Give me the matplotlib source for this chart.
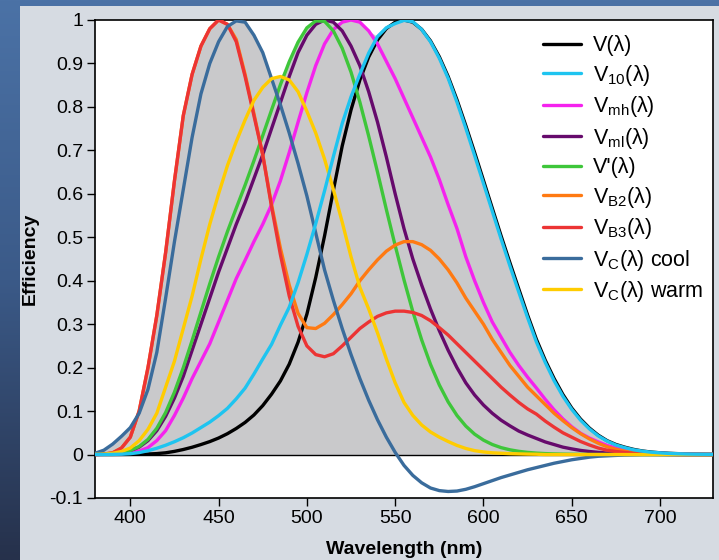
import numpy as np
import matplotlib
matplotlib.use("Agg")
from matplotlib import pyplot as plt
from matplotlib.colors import LinearSegmentedColormap
from matplotlib.patches import Rectangle

plt.rcParams['font.family'] = ['Liberation Sans', 'DejaVu Sans']
plt.rcParams['mathtext.fontset'] = 'custom'
plt.rcParams['mathtext.rm'] = 'Liberation Sans'

# wavelength grid (nm), 5 nm steps
wavelength = np.arange(380, 735, 5)

v_photopic = [0.0000, 0.0001, 0.0001, 0.0002, 0.0004, 0.0006, 0.0012, 0.0022, 0.0040, 0.0073,
              0.0116, 0.0168, 0.0230, 0.0298, 0.0380, 0.0480, 0.0600, 0.0739, 0.0910, 0.1126,
              0.1390, 0.1693, 0.2080, 0.2586, 0.3230, 0.4073, 0.5030, 0.6082, 0.7100, 0.7932,
              0.8620, 0.9149, 0.9540, 0.9803, 0.9950, 1.0000, 0.9950, 0.9786, 0.9520, 0.9154,
              0.8700, 0.8163, 0.7570, 0.6949, 0.6310, 0.5668, 0.5030, 0.4412, 0.3810, 0.3210,
              0.2650, 0.2170, 0.1750, 0.1382, 0.1070, 0.0816, 0.0610, 0.0446, 0.0320, 0.0232,
              0.0170, 0.0119, 0.0082, 0.0057, 0.0041, 0.0029, 0.0021, 0.0015, 0.0010, 0.0007,
              0.0005]

v_10 = [0.0000, 0.0001, 0.0003, 0.0008, 0.0020, 0.0045, 0.0088, 0.0145, 0.0214, 0.0295,
        0.0387, 0.0496, 0.0621, 0.0747, 0.0895, 0.1063, 0.1282, 0.1528, 0.1852, 0.2199,
        0.2536, 0.2977, 0.3391, 0.3954, 0.4608, 0.5314, 0.6067, 0.6857, 0.7618, 0.8233,
        0.8752, 0.9238, 0.9620, 0.9822, 0.9918, 0.9991, 0.9960, 0.9780, 0.9500, 0.9120,
        0.8660, 0.8110, 0.7510, 0.6880, 0.6240, 0.5600, 0.4960, 0.4340, 0.3740, 0.3150,
        0.2590, 0.2120, 0.1700, 0.1340, 0.1040, 0.0790, 0.0590, 0.0430, 0.0310, 0.0220,
        0.0160, 0.0110, 0.0078, 0.0054, 0.0039, 0.0026, 0.0018, 0.0012, 0.0008, 0.0006,
        0.0004]

v_mh = [0.0002, 0.0005, 0.0010, 0.0020, 0.0040, 0.0080, 0.0160, 0.0320, 0.0550, 0.0900,
        0.1300, 0.1750, 0.2150, 0.2550, 0.3050, 0.3550, 0.4050, 0.4470, 0.4900, 0.5300,
        0.5750, 0.6300, 0.6950, 0.7650, 0.8330, 0.8950, 0.9450, 0.9780, 0.9950, 1.0000,
        0.9950, 0.9750, 0.9450, 0.9050, 0.8650, 0.8200, 0.7750, 0.7300, 0.6850, 0.6330,
        0.5750, 0.5200, 0.4550, 0.4000, 0.3500, 0.3050, 0.2700, 0.2350, 0.2050, 0.1780,
        0.1530, 0.1270, 0.1030, 0.0820, 0.0640, 0.0490, 0.0380, 0.0290, 0.0210, 0.0150,
        0.0110, 0.0080, 0.0055, 0.0040, 0.0028, 0.0020, 0.0014, 0.0010, 0.0007, 0.0005,
        0.0003]

v_ml = [0.0005, 0.0010, 0.0020, 0.0045, 0.0090, 0.0170, 0.0320, 0.0550, 0.0880, 0.1300,
        0.1800, 0.2400, 0.3000, 0.3600, 0.4200, 0.4750, 0.5300, 0.5800, 0.6350, 0.6900,
        0.7500, 0.8100, 0.8700, 0.9250, 0.9650, 0.9900, 1.0000, 0.9950, 0.9750, 0.9400,
        0.8950, 0.8350, 0.7650, 0.6850, 0.6000, 0.5200, 0.4500, 0.3900, 0.3350, 0.2850,
        0.2400, 0.2000, 0.1650, 0.1370, 0.1140, 0.0950, 0.0790, 0.0660, 0.0540, 0.0450,
        0.0370, 0.0290, 0.0230, 0.0170, 0.0130, 0.0095, 0.0070, 0.0050, 0.0035, 0.0025,
        0.0017, 0.0012, 0.0008, 0.0005, 0.0003, 0.0000, 0.0000, 0.0000, 0.0000, 0.0000,
        0.0000]

v_scotopic = [0.0006, 0.0011, 0.0022, 0.0045, 0.0093, 0.0185, 0.0348, 0.0604, 0.0966, 0.1436,
              0.1998, 0.2625, 0.3281, 0.3931, 0.4550, 0.5130, 0.5670, 0.6200, 0.6760, 0.7340,
              0.7930, 0.8510, 0.9040, 0.9490, 0.9820, 0.9980, 0.9970, 0.9750, 0.9350, 0.8800,
              0.8110, 0.7330, 0.6500, 0.5640, 0.4810, 0.4020, 0.3288, 0.2639, 0.2076, 0.1602,
              0.1212, 0.0899, 0.0655, 0.0469, 0.0332, 0.0231, 0.0159, 0.0109, 0.0074, 0.0050,
              0.0033, 0.0022, 0.0015, 0.0010, 0.0007, 0.0005, 0.0003, 0.0002, 0.0001, 0.0001,
              0.0001, 0.0000, 0.0000, 0.0000, 0.0000, 0.0000, 0.0000, 0.0000, 0.0000, 0.0000,
              0.0000]

v_b2 = [0.0000, 0.0010, 0.0040, 0.0150, 0.0400, 0.1000, 0.2000, 0.3200, 0.4650, 0.6300,
        0.7800, 0.8750, 0.9400, 0.9800, 1.0000, 0.9900, 0.9550, 0.8750, 0.7850, 0.6900,
        0.5750, 0.4750, 0.3900, 0.3250, 0.2920, 0.2900, 0.3020, 0.3220, 0.3450, 0.3700,
        0.4000, 0.4250, 0.4480, 0.4680, 0.4820, 0.4900, 0.4900, 0.4830, 0.4700, 0.4500,
        0.4250, 0.3950, 0.3600, 0.3300, 0.3000, 0.2650, 0.2350, 0.2050, 0.1800, 0.1550,
        0.1350, 0.1150, 0.0950, 0.0780, 0.0620, 0.0480, 0.0360, 0.0260, 0.0180, 0.0120,
        0.0080, 0.0050, 0.0030, 0.0020, 0.0012, 0.0007, 0.0004, 0.0000, 0.0000, 0.0000,
        0.0000]

v_b3 = [0.0000, 0.0010, 0.0040, 0.0150, 0.0400, 0.1000, 0.2000, 0.3200, 0.4650, 0.6300,
        0.7800, 0.8750, 0.9400, 0.9800, 1.0000, 0.9900, 0.9500, 0.8700, 0.7800, 0.6900,
        0.5700, 0.4600, 0.3650, 0.2950, 0.2500, 0.2300, 0.2250, 0.2320, 0.2500, 0.2700,
        0.2900, 0.3050, 0.3180, 0.3260, 0.3300, 0.3300, 0.3270, 0.3200, 0.3080, 0.2920,
        0.2750, 0.2550, 0.2350, 0.2150, 0.1950, 0.1750, 0.1550, 0.1370, 0.1200, 0.1050,
        0.0930, 0.0770, 0.0630, 0.0500, 0.0400, 0.0300, 0.0220, 0.0150, 0.0100, 0.0070,
        0.0050, 0.0030, 0.0020, 0.0012, 0.0008, 0.0005, 0.0000, 0.0000, 0.0000, 0.0000,
        0.0000]

v_c_cool = [0.0030, 0.0100, 0.0240, 0.0420, 0.0620, 0.0950, 0.1500, 0.2350, 0.3600, 0.4900,
            0.6100, 0.7300, 0.8300, 0.9000, 0.9500, 0.9850, 0.9980, 0.9950, 0.9650, 0.9250,
            0.8650, 0.8050, 0.7400, 0.6700, 0.5950, 0.5100, 0.4250, 0.3550, 0.2900, 0.2300,
            0.1750, 0.1250, 0.0800, 0.0400, 0.0050, -0.0250, -0.0480, -0.0650, -0.0770, -0.0830,
            -0.0850, -0.0840, -0.0800, -0.0740, -0.0670, -0.0600, -0.0530, -0.0470, -0.0410, -0.0350,
            -0.0300, -0.0250, -0.0200, -0.0160, -0.0120, -0.0090, -0.0060, -0.0040, -0.0030, -0.0020,
            -0.0010, -0.0005, 0.0000, 0.0000, 0.0000, 0.0000, 0.0000, 0.0000, 0.0000, 0.0000,
            0.0000]

v_c_warm = [0.0005, 0.0010, 0.0030, 0.0070, 0.0150, 0.0320, 0.0580, 0.0950, 0.1550, 0.2150,
            0.2900, 0.3650, 0.4500, 0.5300, 0.6000, 0.6650, 0.7200, 0.7700, 0.8150, 0.8450,
            0.8650, 0.8700, 0.8620, 0.8350, 0.7900, 0.7400, 0.6800, 0.6100, 0.5350, 0.4550,
            0.3850, 0.3350, 0.2800, 0.2200, 0.1650, 0.1200, 0.0900, 0.0680, 0.0520, 0.0400,
            0.0300, 0.0210, 0.0140, 0.0090, 0.0060, 0.0040, 0.0030, 0.0020, 0.0015, 0.0010,
            0.0007, 0.0000, 0.0000, 0.0000, 0.0000, 0.0000, 0.0000, 0.0000, 0.0000, 0.0000,
            0.0000, 0.0000, 0.0000, 0.0000, 0.0000, 0.0000, 0.0000, 0.0000, 0.0000, 0.0000,
            0.0000]

labels = [r'V(λ)', r'V$_{\mathrm{10}}$(λ)', r'V$_{\mathrm{mh}}$(λ)', r'V$_{\mathrm{ml}}$(λ)',
          r"V'(λ)", r'V$_{\mathrm{B2}}$(λ)', r'V$_{\mathrm{B3}}$(λ)',
          r'V$_{\mathrm{C}}$(λ) cool', r'V$_{\mathrm{C}}$(λ) warm']
series = [v_photopic, v_10, v_mh, v_ml, v_scotopic, v_b2, v_b3, v_c_cool, v_c_warm]
colors = ['#000000', '#1ec4f0', '#f522ee', '#660a6c', '#3ec63a',
          '#ff7a12', '#ec3434', '#3a6c9c', '#ffcc00']
zorders = [3.0, 3.9, 3.2, 3.3, 3.4, 3.5, 3.6, 3.7, 3.8]


def main():
    fig = plt.figure(figsize=(7.19, 5.6), dpi=100)

    # blue gradient backdrop plus light panel
    bg = fig.add_axes([0, 0, 1, 1])
    bg.set_xlim(0, 1)
    bg.set_ylim(0, 1)
    bg.axis('off')
    cmap = LinearSegmentedColormap.from_list('bg', ['#26314b', '#3b5a88', '#4b72a6'])
    grad = np.linspace(0, 1, 256).reshape(-1, 1)
    bg.imshow(grad, cmap=cmap, aspect='auto', extent=[0, 1, 0, 1], origin='lower')
    bg.add_patch(Rectangle((20 / 719, 0), 1, 554 / 560, color='#d6dbe2', lw=0))

    ax = fig.add_axes([95 / 719, 62 / 560, 618 / 719, 478 / 560])
    ax.set_facecolor('white')

    data = np.array(series)
    envelope = np.clip(data.max(axis=0), 0, None)
    ax.fill_between(wavelength, 0, envelope, color='#c9c9cb', lw=0, zorder=1)
    ax.axhline(0, color='black', lw=1.0, zorder=2)

    for vals, lab, col, z in zip(series, labels, colors, zorders):
        ax.plot(wavelength, vals, color=col, lw=2.4, label=lab, zorder=z,
                solid_capstyle='round')

    ax.set_xlim(380, 730)
    ax.set_ylim(-0.1, 1.0)
    ax.set_xticks([400, 450, 500, 550, 600, 650, 700])
    yt = [-0.1, 0, 0.1, 0.2, 0.3, 0.4, 0.5, 0.6, 0.7, 0.8, 0.9, 1]
    ax.set_yticks(yt)
    ax.set_yticklabels(['-0.1', '0', '0.1', '0.2', '0.3', '0.4', '0.5', '0.6',
                        '0.7', '0.8', '0.9', '1'])
    ax.tick_params(direction='out', length=5.5, width=1.0, labelsize=14, pad=3,
                   top=False, right=False)
    for sp in ax.spines.values():
        sp.set_linewidth(1.2)
        sp.set_color('black')

    ax.set_xlabel('Wavelength (nm)', fontsize=14, fontweight='bold', labelpad=10)
    ax.set_ylabel('Efficiency', fontsize=14, fontweight='bold', labelpad=8)

    ax.legend(loc='upper left', bbox_to_anchor=(0.725, 0.968), frameon=False,
              fontsize=15.5, handlelength=1.75, handletextpad=0.55, labelspacing=0.3,
              borderpad=0, borderaxespad=0)

    fig.savefig('out.png', dpi=100, facecolor=fig.get_facecolor())


if __name__ == '__main__':
    main()
